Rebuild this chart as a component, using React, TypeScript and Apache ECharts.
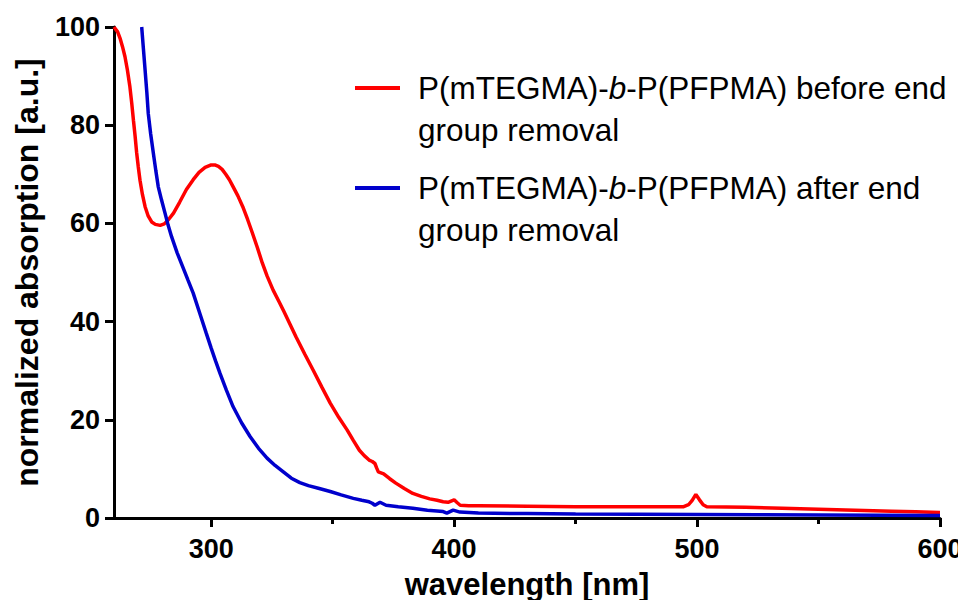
import React, { useEffect, useRef } from "react";
import * as echarts from "echarts";

// wavelength (nm) and normalized absorption, before end group removal
const beforeNm = [260, 261.5, 262.5, 263.5, 264.5, 265.5, 266.5, 267.3, 268, 268.7, 269.3, 270, 270.7, 271.7, 272.8, 274, 275.5, 277, 279, 280.7, 282.3, 284.5, 287, 289.8, 292.6, 295, 297.5, 300, 301.5, 303, 304.5, 306, 307.5, 309, 311, 313, 315, 317, 319, 321, 323, 325.5, 328, 330, 332.5, 335, 338.5, 342, 345.5, 349, 352.5, 356, 358.5, 361, 363, 365, 366.3, 367.4, 368.1, 368.8, 371, 373.5, 376, 379.5, 383, 386.5, 390, 393, 395.5, 397.5, 399, 400, 401.3, 402.5, 406, 410, 430, 450, 470, 494.5, 496.5, 498, 499.5, 501, 502.5, 504, 520, 535, 550, 565, 580, 590, 600];
const beforeAbs = [100, 99, 97.7, 96, 94, 91.3, 88, 84.5, 81, 77.7, 74.5, 71.5, 68.8, 65.9, 63.4, 61.6, 60.3, 59.8, 59.6, 59.9, 60.7, 62.1, 64.3, 66.9, 68.9, 70.4, 71.4, 71.9, 71.9, 71.6, 71, 70, 68.9, 67.5, 65.6, 63.4, 60.8, 58, 55.1, 52, 49.3, 46.4, 44, 42, 39.4, 36.8, 33.4, 30.1, 26.7, 23.4, 20.5, 17.9, 15.8, 13.8, 12.7, 11.8, 11.5, 11.1, 10.2, 9.4, 9.0, 8.0, 7.1, 6.0, 5.0, 4.4, 3.9, 3.6, 3.3, 3.2, 3.5, 3.7, 3.1, 2.6, 2.5, 2.5, 2.4, 2.3, 2.3, 2.3, 2.7, 3.6, 4.8, 3.7, 2.7, 2.3, 2.2, 2.0, 1.8, 1.6, 1.4, 1.25, 1.1];

// after end group removal
const afterNm = [271.4, 272.1, 272.8, 273.5, 274.1, 275.1, 276.2, 277.2, 278.2, 279.6, 281, 282.3, 283.7, 286, 288.5, 290.5, 292.6, 295.3, 298, 300, 301.8, 303.6, 306.3, 309, 312.5, 316, 319.5, 323, 326.3, 329.7, 333, 336.5, 340, 344.5, 349, 353.5, 358.5, 362, 365, 366.3, 367.4, 369.5, 372, 377, 383, 389, 395.5, 397, 399.6, 402.4, 410, 430, 450, 475, 500, 525, 550, 575, 600];
const afterAbs = [100, 95.6, 91.2, 86.8, 82.4, 78.2, 74.3, 70.8, 67.5, 64.7, 62.1, 59.6, 57.3, 54, 50.9, 48.4, 45.8, 41.7, 37.6, 34.6, 32, 29.5, 26, 22.7, 19.4, 16.6, 14.2, 12.2, 10.7, 9.4, 8.1, 7.2, 6.6, 6.0, 5.4, 4.7, 4.0, 3.6, 3.3, 3.0, 2.6, 3.2, 2.6, 2.3, 2.0, 1.6, 1.3, 1.0, 1.6, 1.2, 1.0, 0.9, 0.8, 0.75, 0.7, 0.65, 0.6, 0.55, 0.5];

const xMajorTicks = [300, 400, 500, 600];
const xMinorTicks = [350, 450, 550];

const nameBefore = "P(mTEGMA)-b-P(PFPMA) before end group removal";
const nameAfter = "P(mTEGMA)-b-P(PFPMA) after end group removal";
const legendTextBefore = "P(mTEGMA)-{i|b}-P(PFPMA) before end\ngroup removal";
const legendTextAfter = "P(mTEGMA)-{i|b}-P(PFPMA) after end\ngroup removal";

const FONT = "'Liberation Sans', Arial, sans-serif";

export default function App() {
  const ref = useRef<HTMLDivElement>(null);
  useEffect(() => {
    if (!ref.current) return;
    const chart = echarts.init(ref.current, undefined, { renderer: "svg" });
    const legendText = {
      fontFamily: FONT,
      fontSize: 31.5,
      color: "#000",
      lineHeight: 42,
      padding: [42, 0, 0, 13],
      rich: {
        i: { fontFamily: FONT, fontSize: 31.5, fontStyle: "italic", lineHeight: 42, color: "#000" },
      },
    };
    const lineCommon = {
      type: "line",
      xAxisIndex: 0,
      showSymbol: false,
      smooth: false,
    };
    chart.setOption({
      animation: false,
      backgroundColor: "#fff",
      grid: { left: 114, right: 26, top: 27, bottom: 90, outerBoundsMode: "none" },
      legend: [
        {
          data: [nameBefore],
          left: 355,
          top: 25,
          padding: 0,
          orient: "vertical",
          icon: "rect",
          itemWidth: 45,
          itemHeight: 4,
          formatter: () => legendTextBefore,
          textStyle: legendText,
        },
        {
          data: [nameAfter],
          left: 355,
          top: 125,
          padding: 0,
          orient: "vertical",
          icon: "rect",
          itemWidth: 45,
          itemHeight: 4,
          formatter: () => legendTextAfter,
          textStyle: legendText,
        },
      ],
      xAxis: [
        {
          type: "value",
          min: 260,
          max: 600,
          position: "bottom",
          name: "wavelength [nm]",
          nameLocation: "middle",
          nameGap: 51,
          nameTextStyle: { fontFamily: FONT, fontSize: 31, fontWeight: "bold", color: "#000" },
          axisLine: { show: true, onZero: false, lineStyle: { color: "#000", width: 3 } },
          axisTick: { show: true, customValues: xMajorTicks, length: 9, lineStyle: { color: "#000", width: 3 } },
          axisLabel: { customValues: xMajorTicks, fontFamily: FONT, fontSize: 27, fontWeight: "bold", color: "#000", margin: 17 },
          splitLine: { show: false },
        },
        {
          type: "value",
          min: 260,
          max: 600,
          position: "bottom",
          axisLine: { show: false, onZero: false },
          axisTick: { show: true, customValues: xMinorTicks, length: 6, lineStyle: { color: "#000", width: 3 } },
          axisLabel: { show: false },
          splitLine: { show: false },
        },
      ],
      yAxis: {
        type: "value",
        min: 0,
        max: 100,
        interval: 20,
        name: "normalized absorption [a.u.]",
        nameLocation: "middle",
        nameGap: 71,
        nameTextStyle: { fontFamily: FONT, fontSize: 32, fontWeight: "bold", color: "#000" },
        axisLine: { show: true, onZero: false, lineStyle: { color: "#000", width: 3 } },
        axisTick: { show: true, length: 9, lineStyle: { color: "#000", width: 3 } },
        axisLabel: { fontFamily: FONT, fontSize: 27, fontWeight: "bold", color: "#000", margin: 14 },
        splitLine: { show: false },
      },
      series: [
        {
          ...lineCommon,
          name: nameBefore,
          data: beforeNm.map((x, i) => [x, beforeAbs[i]]),
          lineStyle: { color: "#ff0000", width: 3.5 },
          itemStyle: { color: "#ff0000" },
        },
        {
          ...lineCommon,
          name: nameAfter,
          data: afterNm.map((x, i) => [x, afterAbs[i]]),
          lineStyle: { color: "#0000cc", width: 3.5 },
          itemStyle: { color: "#0000cc" },
        },
      ],
    });
    return () => chart.dispose();
  }, []);
  return <div ref={ref} style={{ width: 966, height: 608, margin: -8 }} />;
}
